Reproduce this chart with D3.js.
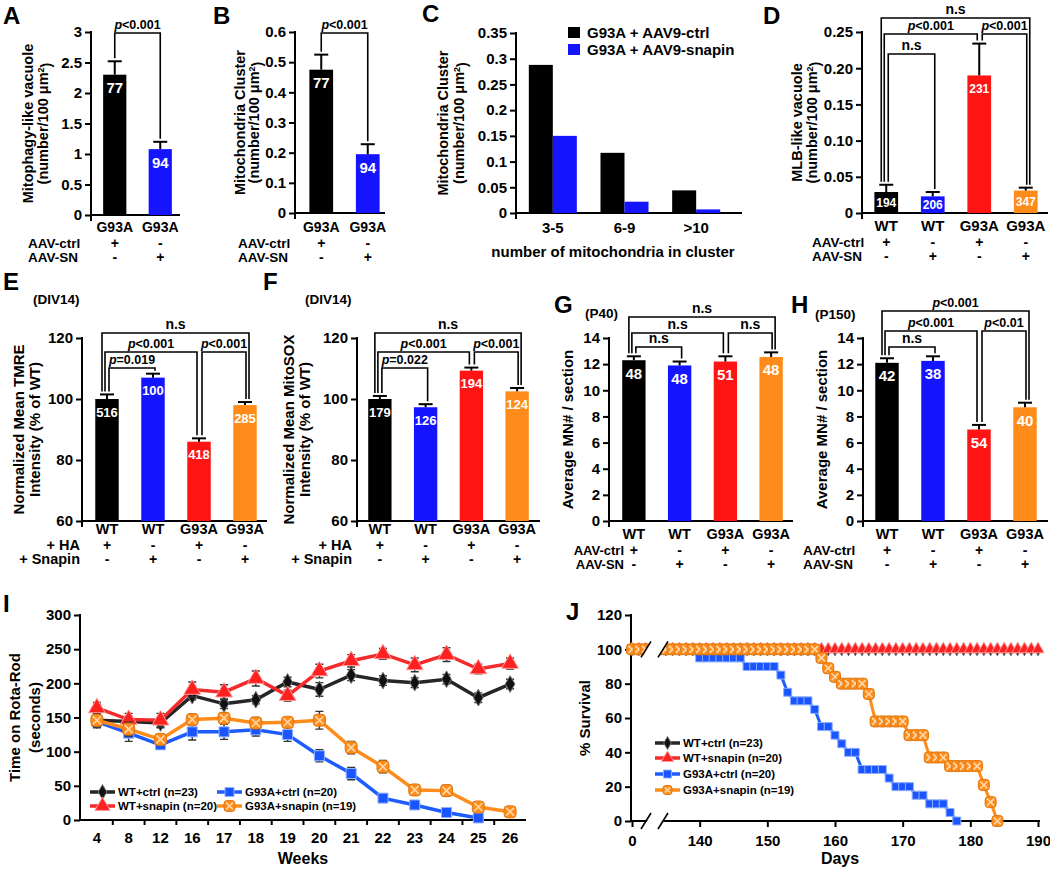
<!DOCTYPE html>
<html>
<head>
<meta charset="utf-8">
<script src="https://cdn.jsdelivr.net/npm/d3@7"></script>
<style>
  body { margin: 0; background: #fff; }
  svg { display: block; }
</style>
</head>
<body>
<script>
// ---------- data ----------
var aGroups = ["G93A", "G93A"];
var aMeans = [2.3, 1.08];
var aErrs = [0.22, 0.12];
var aCounts = [77, 94];
var aTicks = [0, 0.5, 1, 1.5, 2, 2.5, 3];
var aComps = [[0, 1, "p<0.001"]];

var bMeans = [0.475, 0.195];
var bErrs = [0.05, 0.033];
var bCounts = [77, 94];
var bTicks = [0, 0.1, 0.2, 0.3, 0.4, 0.5, 0.6];
var bComps = [[0, 1, "p<0.001"]];

var cCats = ["3-5", "6-9", ">10"];
var cCtrl = [0.288, 0.117, 0.044];
var cSnapin = [0.15, 0.022, 0.007];
var cTicks = [0, 0.05, 0.1, 0.15, 0.2, 0.25, 0.3, 0.35];
var cLegend = ["G93A + AAV9-ctrl", "G93A + AAV9-snapin"];

var fourGroups = ["WT", "WT", "G93A", "G93A"];
var aavRows = ["AAV-ctrl", "AAV-SN"];
var cultRows = ["+ HA", "+ Snapin"];
var twoSigns = [["+", "-"], ["-", "+"]];
var fourSigns = [["+", "-", "+", "-"], ["-", "+", "-", "+"]];

var dMeans = [0.029, 0.023, 0.19, 0.031];
var dErrs = [0.010, 0.006, 0.044, 0.004];
var dCounts = [194, 206, 231, 347];
var dTicks = [0, 0.05, 0.10, 0.15, 0.20, 0.25];
var dComps = [[0, 3, "n.s"], [0, 2, "p<0.001"], [2, 3, "p<0.001"], [0, 1, "n.s"]];

var eMeans = [100, 107, 86, 98];
var eErrs = [1.5, 1.3, 1.1, 1.0];
var eCounts = [516, 100, 418, 285];
var eComps = [[0, 3, "n.s"], [0, 2, "p<0.001"], [2, 3, "p<0.001"], [0, 1, "p=0.019"]];

var fMeans = [100, 97.3, 109.3, 102.5];
var fErrs = [1.0, 1.0, 1.0, 1.1];
var fCounts = [179, 126, 194, 124];
var fComps = [[0, 3, "n.s"], [0, 2, "p<0.001"], [2, 3, "p<0.001"], [0, 1, "p=0.022"]];
var efTicks = [60, 80, 100, 120];

var gMeans = [12.3, 11.9, 12.2, 12.55];
var gErrs = [0.3, 0.3, 0.4, 0.35];
var gCounts = [48, 48, 51, 48];
var gComps = [[0, 3, "n.s"], [0, 2, "n.s"], [2, 3, "n.s"], [0, 1, "n.s"]];

var hMeans = [12.1, 12.25, 7.0, 8.7];
var hErrs = [0.35, 0.35, 0.35, 0.35];
var hCounts = [42, 38, 54, 40];
var hComps = [[0, 3, "p<0.001"], [0, 2, "p<0.001"], [2, 3, "p<0.01"], [0, 1, "n.s"]];
var ghTicks = [0, 2, 4, 6, 8, 10, 12, 14];

var seriesNames = ["WT+ctrl (n=23)", "WT+snapin (n=20)", "G93A+ctrl  (n=20)", "G93A+snapin  (n=19)"];

// rota-rod (I)
var weeks = ["4", "8", "12", "16", "17", "18", "19", "20", "21", "22", "23", "24", "25", "26"];
var rotaWtCtrl = [146, 144, 142, 182, 170, 176, 202, 191, 212, 204, 201, 206, 179, 199];
var rotaWtSnap = [164, 147, 146, 191, 187, 207, 182, 218, 233, 243, 227, 242, 221, 229];
var rotaG93aCtrl = [144, 127, 110, 129, 129, 132, 125, 94, 68, 32, 22, 11, 3];
var rotaG93aSnap = [146, 133, 118, 147, 149, 142, 143, 146, 106, 78, 44, 43, 19, 12];
var rotaErrWtCtrl = [10, 8, 7, 6, 7, 6, 7, 10, 8, 7, 7, 7, 7, 7];
var rotaErrWtSnap = [8, 9, 10, 11, 11, 11, 8, 10, 9, 8, 10, 10, 7, 8];
var rotaErrG93aCtrl = [9, 12, 6, 12, 11, 9, 10, 9, 9, 5, 5, 4, 3];
var rotaErrG93aSnap = [9, 10, 8, 8, 8, 8, 6, 13, 9, 9, 7, 8, 5, 4];
var rotaTicks = [0, 50, 100, 150, 200, 250, 300];

// survival (J): first plotted day is shown as "0" on the broken axis
var survFirstDay = 130;
var survWtCtrl = [100, 100, 100, 100, 100, 100, 100, 100, 100, 100,
  100, 100, 100, 100, 100, 100, 100, 100, 100, 100,
  100, 100, 100, 100, 100, 100, 100, 100, 100, 100,
  100, 100, 100, 100, 100, 100, 100, 100, 100, 100,
  100, 100, 100, 100, 100, 100, 100, 100, 100, 100,
  100, 100, 100, 100, 100, 100, 100, 100, 100, 100, 100];
var survWtSnap = [100, 100, 100, 100, 100, 100, 100, 100, 100, 100,
  100, 100, 100, 100, 100, 100, 100, 100, 100, 100,
  100, 100, 100, 100, 100, 100, 100, 100, 100, 100,
  100, 100, 100, 100, 100, 100, 100, 100, 100, 100,
  100, 100, 100, 100, 100, 100, 100, 100, 100, 100,
  100, 100, 100, 100, 100, 100, 100, 100, 100, 100, 100];
var survG93aCtrl = [100, 100, 100, 100, 100, 100, 100, 100, 100, 100,
  95, 95, 95, 95, 95, 95, 95, 90, 90, 90,
  90, 90, 85, 75, 70, 70, 70, 65, 55, 55,
  50, 45, 40, 40, 30, 30, 30, 30, 25, 20,
  20, 20, 15, 15, 10, 10, 10, 5, 0];
var survG93aSnap = [100, 100, 100, 100, 100, 100, 100, 100, 100, 100,
  100, 100, 100, 100, 100, 100, 100, 100, 100, 100,
  100, 100, 100, 100, 100, 100, 100, 100, 95, 89,
  84, 80, 80, 80, 80, 74, 58, 58, 58, 58,
  58, 50, 50, 50, 37, 37, 37, 32, 32, 32,
  32, 32, 21, 11, 0];
var survTicks = [130, 140, 150, 160, 170, 180, 190];
var survYTicks = [0, 20, 40, 60, 80, 100, 120];

// ---------- drawing ----------
var FONT = "Arial, 'Liberation Sans', Helvetica, sans-serif";
var BLACK = "#000000", BLUE = "#1414ff", RED = "#ff1414", ORANGE = "#ff8c1a";
var barColors = [BLACK, BLUE, RED, ORANGE];

var svg = d3.select("body").append("svg")
  .attr("width", 1050).attr("height", 869)
  .attr("font-family", FONT).attr("font-weight", "bold");

function txt(g, x, y, s, size, anchor, fill) {
  return g.append("text").attr("x", x).attr("y", y).attr("font-size", size)
    .attr("text-anchor", anchor || "start").attr("fill", fill || "#000").text(s);
}

function pLabel(g, x, y, s, size) {
  var t = g.append("text").attr("x", x).attr("y", y).attr("text-anchor", "middle").attr("font-size", size);
  if (s.charAt(0) === "p") {
    t.append("tspan").attr("font-style", "italic").text("p");
    t.append("tspan").text(s.slice(1));
  } else {
    t.text(s);
  }
}

function yTitle(g, lines, xs, cy, size) {
  lines.forEach(function(s, k) {
    var t = g.append("text")
      .attr("transform", "translate(" + xs[k] + "," + cy + ") rotate(-90)")
      .attr("text-anchor", "middle").attr("dy", "0.35em").attr("font-size", size);
    var parts = s.split("^");
    t.append("tspan").text(parts[0]);
    if (parts.length > 1) {
      t.append("tspan").attr("dy", "-0.5em").attr("font-size", size * 0.62).text(parts[1].charAt(0));
      t.append("tspan").attr("dy", "0.5em").text(parts[1].slice(1));
    }
  });
}

function styleAxis(ga, size) {
  ga.selectAll("line").attr("stroke", "#000").attr("stroke-width", 2);
  ga.selectAll("text").attr("font-size", size).attr("font-family", FONT)
    .attr("font-weight", "bold").attr("fill", "#000");
}

function barPanel(c) {
  var g = svg.append("g");
  var n = c.means.length;
  var y = d3.scaleLinear().domain(c.domain).range([c.bottom, c.top]);
  var x = d3.scaleBand().domain(d3.range(n)).range(c.band).paddingInner(0.49).paddingOuter(0.245);
  var cx = function(i) { return x(i) + x.bandwidth() / 2; };

  var ga = g.append("g").attr("transform", "translate(" + c.axisX + ",0)")
    .call(d3.axisLeft(y).tickValues(c.ticks).tickFormat(c.fmt).tickSize(6).tickSizeOuter(0).tickPadding(3));
  ga.select(".domain").remove();
  styleAxis(ga, 15);
  g.append("line").attr("x1", c.axisX).attr("x2", c.axisX).attr("y1", c.top - 1).attr("y2", c.bottom + 6)
    .attr("stroke", "#000").attr("stroke-width", 2);
  g.append("line").attr("x1", c.axisX - 1).attr("x2", c.axisEnd).attr("y1", c.bottom).attr("y2", c.bottom)
    .attr("stroke", "#000").attr("stroke-width", 2);

  // bars
  g.selectAll("rect.bar").data(c.means).enter().append("rect")
    .attr("x", function(d, i) { return x(i); })
    .attr("y", function(d) { return y(d); })
    .attr("width", x.bandwidth())
    .attr("height", function(d) { return c.bottom - y(d); })
    .attr("fill", function(d, i) { return barColors[i]; });

  // error bars (upward), counts, group labels and +/- rows
  c.means.forEach(function(m, i) {
    var yt = y(m + c.errs[i]);
    g.append("line").attr("x1", cx(i)).attr("x2", cx(i)).attr("y1", y(m)).attr("y2", yt)
      .attr("stroke", "#000").attr("stroke-width", 2);
    g.append("line").attr("x1", cx(i) - 7).attr("x2", cx(i) + 7).attr("y1", yt).attr("y2", yt)
      .attr("stroke", "#000").attr("stroke-width", 2);
    var top = y(m), cy = Math.min(top + 13, (top + c.bottom) / 2);
    txt(g, cx(i), cy, c.counts[i], c.countSize, "middle", "#fff").attr("dy", "0.36em");
    txt(g, cx(i), c.labelY, c.groups[i], c.labelSize, "middle");
    c.signs.forEach(function(row, r) {
      txt(g, cx(i), c.rowY[r], row[i], 14, "middle");
    });
  });

  c.rows.forEach(function(s, r) {
    txt(g, c.rowX, c.rowY[r], s, c.rowSize, c.rowAnchor);
  });

  yTitle(g, c.ylab, c.ylabX, (c.top + c.bottom) / 2, c.ylabSize);

  // significance brackets
  c.comps.forEach(function(cp, k) {
    var L = c.levels[k], off = c.legs[k];
    var xa = cx(cp[0]) + off[0], xb = cx(cp[1]) + off[1];
    var ya = y(c.means[cp[0]] + c.errs[cp[0]]) - 3;
    var yb = y(c.means[cp[1]] + c.errs[cp[1]]) - 3;
    g.append("path").attr("d", "M" + xa + "," + ya + "V" + L + "H" + xb + "V" + yb)
      .attr("fill", "none").attr("stroke", "#000").attr("stroke-width", 1.6);
    pLabel(g, (xa + xb) / 2, L - 4, cp[2], cp[2].charAt(0) === "p" ? 12.5 : 14);
  });

  txt(g, c.letter[1], c.letter[2], c.letter[0], 24);
  if (c.note) txt(g, c.note[1], c.note[2], c.note[0], 13.5);
}

var fmtPlain = function(d) { return String(d); };
var fmt2 = function(d) { return d === 0 ? "0" : d.toFixed(2); };
var legs4 = [[-5, 4], [-2, -2], [3, 1], [2, 2]];

barPanel({ groups: aGroups, means: aMeans, errs: aErrs, counts: aCounts, ticks: aTicks, fmt: fmtPlain,
  domain: [0, 3], top: 32, bottom: 215, axisX: 91, band: [92, 183], axisEnd: 180,
  labelY: 232, labelSize: 14, rows: aavRows, signs: twoSigns, rowY: [248, 262], rowX: 28, rowAnchor: "start", rowSize: 13.5,
  ylab: ["Mitophagy-like vacuole", "(number/100 \u03bcm^2)"], ylabX: [28, 43], ylabSize: 14.5,
  countSize: 15, comps: aComps, levels: [33], legs: [[0, 0]], letter: ["A", 3, 24] });

barPanel({ groups: aGroups, means: bMeans, errs: bErrs, counts: bCounts, ticks: bTicks, fmt: fmtPlain,
  domain: [0, 0.6], top: 32, bottom: 213, axisX: 295, band: [298, 391], axisEnd: 385,
  labelY: 232, labelSize: 14, rows: aavRows, signs: twoSigns, rowY: [248, 262], rowX: 238, rowAnchor: "start", rowSize: 13.5,
  ylab: ["Mitochondria Cluster", "(number/100 \u03bcm^2)"], ylabX: [240, 254], ylabSize: 14.5,
  countSize: 15, comps: bComps, levels: [33], legs: [[0, 0]], letter: ["B", 213, 24] });

barPanel({ groups: fourGroups, means: dMeans, errs: dErrs, counts: dCounts, ticks: dTicks, fmt: fmt2,
  domain: [0, 0.25], top: 32, bottom: 213, axisX: 862, band: [863, 1049], axisEnd: 1048,
  labelY: 231, labelSize: 15, rows: aavRows, signs: fourSigns, rowY: [247, 261], rowX: 812, rowAnchor: "start", rowSize: 13.5,
  ylab: ["MLB-like vacuole", "(number/100 \u03bcm^2)"], ylabX: [797, 812], ylabSize: 14.5,
  countSize: 12, comps: dComps, levels: [18, 34, 34, 54], legs: legs4, letter: ["D", 763, 24] });

barPanel({ groups: fourGroups, means: eMeans, errs: eErrs, counts: eCounts, ticks: efTicks, fmt: fmtPlain,
  domain: [60, 120], top: 338, bottom: 521, axisX: 82, band: [84, 268], axisEnd: 267,
  labelY: 534, labelSize: 14.5, rows: cultRows, signs: fourSigns, rowY: [550, 564], rowX: 80, rowAnchor: "end", rowSize: 14.5,
  ylab: ["Normalized Mean TMRE", "Intensity (% of WT)"], ylabX: [19, 35], ylabSize: 15,
  countSize: 13, comps: eComps, levels: [333, 352, 352, 368], legs: legs4,
  letter: ["E", 3, 290], note: ["(DIV14)", 33, 304] });

barPanel({ groups: fourGroups, means: fMeans, errs: fErrs, counts: fCounts, ticks: efTicks, fmt: fmtPlain,
  domain: [60, 120], top: 338, bottom: 521, axisX: 357, band: [357, 540], axisEnd: 540,
  labelY: 534, labelSize: 14.5, rows: cultRows, signs: fourSigns, rowY: [550, 564], rowX: 352, rowAnchor: "end", rowSize: 14.5,
  ylab: ["Normalized Mean MitoSOX", "Intensity (% of WT)"], ylabX: [289, 305], ylabSize: 15,
  countSize: 13, comps: fComps, levels: [333, 352, 352, 368], legs: legs4,
  letter: ["F", 263, 290], note: ["(DIV14)", 305, 304] });

barPanel({ groups: fourGroups, means: gMeans, errs: gErrs, counts: gCounts, ticks: ghTicks, fmt: fmtPlain,
  domain: [0, 14], top: 338, bottom: 521, axisX: 609, band: [611, 794], axisEnd: 793,
  labelY: 539, labelSize: 14.5, rows: aavRows, signs: fourSigns, rowY: [555, 569], rowX: 624, rowAnchor: "end", rowSize: 13,
  ylab: ["Average MN# / section"], ylabX: [568], ylabSize: 15,
  countSize: 15, comps: gComps, levels: [317, 333, 333, 347], legs: legs4,
  letter: ["G", 554, 313], note: ["(P40)", 585, 318] });

barPanel({ groups: fourGroups, means: hMeans, errs: hErrs, counts: hCounts, ticks: ghTicks, fmt: fmtPlain,
  domain: [0, 14], top: 338, bottom: 521, axisX: 863, band: [864, 1048], axisEnd: 1048,
  labelY: 539, labelSize: 14.5, rows: aavRows, signs: fourSigns, rowY: [555, 569], rowX: 803, rowAnchor: "start", rowSize: 13.5,
  ylab: ["Average MN# / section"], ylabX: [822], ylabSize: 15,
  countSize: 15, comps: hComps, levels: [311, 331, 331, 347], legs: legs4,
  letter: ["H", 791, 313], note: ["(P150)", 815, 319] });

// ---------- panel C ----------
(function() {
  var g = svg.append("g");
  var top = 33, bottom = 213, axisX = 516;
  var y = d3.scaleLinear().domain([0, 0.35]).range([bottom, top]);
  var x = d3.scaleBand().domain(cCats).range([517, 732]).paddingInner(0.33).paddingOuter(0.165);
  var half = x.bandwidth() / 2;

  var ga = g.append("g").attr("transform", "translate(" + axisX + ",0)")
    .call(d3.axisLeft(y).tickValues(cTicks).tickFormat(fmtPlain).tickSize(6).tickSizeOuter(0).tickPadding(3));
  ga.select(".domain").remove();
  styleAxis(ga, 15);
  g.append("line").attr("x1", axisX).attr("x2", axisX).attr("y1", top - 1).attr("y2", bottom + 6)
    .attr("stroke", "#000").attr("stroke-width", 2);
  g.append("line").attr("x1", axisX - 1).attr("x2", 742).attr("y1", bottom).attr("y2", bottom)
    .attr("stroke", "#000").attr("stroke-width", 2);

  g.selectAll("rect.ctrl").data(cCtrl).enter().append("rect")
    .attr("x", function(d, i) { return x(cCats[i]); })
    .attr("y", function(d) { return y(d); })
    .attr("width", half).attr("height", function(d) { return bottom - y(d); })
    .attr("fill", BLACK);
  g.selectAll("rect.snap").data(cSnapin).enter().append("rect")
    .attr("x", function(d, i) { return x(cCats[i]) + half; })
    .attr("y", function(d) { return y(d); })
    .attr("width", half).attr("height", function(d) { return bottom - y(d); })
    .attr("fill", BLUE);

  cCats.forEach(function(cat) {
    txt(g, x(cat) + half, 233, cat, 15, "middle");
  });
  txt(g, 613, 257, "number of mitochondria in cluster", 15, "middle");
  yTitle(g, ["Mitochondria Cluster", "(number/100 \u03bcm^2)"], [443, 459], (top + bottom) / 2, 14.5);

  [BLACK, BLUE].forEach(function(col, k) {
    g.append("rect").attr("x", 568).attr("y", 27 + k * 17).attr("width", 12).attr("height", 11).attr("fill", col);
    txt(g, 587, 38 + k * 17, cLegend[k], 15);
  });
  txt(g, 422, 22, "C", 24);
})();

// ---------- markers ----------
var symbols = {
  diamond: d3.symbolDiamond,
  triangle: d3.symbolTriangle,
  square: d3.symbolSquare
};
function drawMarker(g, kind, px, py, color, edge, size) {
  var m = g.append("g").attr("transform", "translate(" + px + "," + py + ")");
  if (kind === "cross") {
    var h = size / 2;
    m.append("rect").attr("x", -h).attr("y", -h).attr("width", size).attr("height", size).attr("rx", size * 0.3)
      .attr("fill", color).attr("stroke", "#e07810").attr("stroke-width", 1);
    m.append("path").attr("d", "M" + (-h + 2) + "," + (-h + 2) + "L" + (h - 2) + "," + (h - 2) +
      "M" + (-h + 2) + "," + (h - 2) + "L" + (h - 2) + "," + (-h + 2))
      .attr("stroke", "#ffd8aa").attr("stroke-width", 1.6);
  } else {
    m.append("path").attr("d", d3.symbol(symbols[kind], size * size)())
      .attr("fill", color).attr("stroke", edge).attr("stroke-width", 1);
  }
}

var seriesStyle = [
  { line: "#262626", fill: "#111111", edge: "#777777", kind: "diamond" },
  { line: "#f52a2a", fill: "#ff2020", edge: "#ff9a9a", kind: "triangle" },
  { line: "#1f5cff", fill: "#1a55ff", edge: "#8fb0ff", kind: "square" },
  { line: "#ff8c1a", fill: "#ff8c1a", edge: "#e07810", kind: "cross" }
];

// ---------- panel I ----------
(function() {
  var g = svg.append("g");
  var top = 615, bottom = 820, axisX = 80;
  var y = d3.scaleLinear().domain([0, 300]).range([bottom, top]);
  var x = d3.scaleBand().domain(weeks).range([81, 526]);
  var cx = function(w) { return x(w) + x.bandwidth() / 2; };

  var ga = g.append("g").attr("transform", "translate(" + axisX + ",0)")
    .call(d3.axisLeft(y).tickValues(rotaTicks).tickSize(6).tickSizeOuter(0).tickPadding(3));
  ga.select(".domain").remove();
  styleAxis(ga, 15);
  g.append("line").attr("x1", axisX).attr("x2", axisX).attr("y1", top - 1).attr("y2", bottom + 1)
    .attr("stroke", "#000").attr("stroke-width", 2);
  var gx = g.append("g").attr("transform", "translate(0," + bottom + ")")
    .call(d3.axisBottom(x).tickSize(0).tickPadding(12));
  gx.select(".domain").attr("stroke", "#000").attr("stroke-width", 2).attr("d", "M" + (axisX - 1) + ",0H526");
  styleAxis(gx, 15);
  weeks.forEach(function(w, i) {
    if (i > 0) g.append("line").attr("x1", x(w)).attr("x2", x(w)).attr("y1", bottom).attr("y2", bottom + 5)
      .attr("stroke", "#000").attr("stroke-width", 2);
  });
  txt(g, 303, 864, "Weeks", 16, "middle");
  yTitle(g, ["Time on Rota-Rod", "(seconds)"], [15, 35], (top + bottom) / 2, 15);

  var all = [rotaWtCtrl, rotaWtSnap, rotaG93aCtrl, rotaG93aSnap];
  var errs = [rotaErrWtCtrl, rotaErrWtSnap, rotaErrG93aCtrl, rotaErrG93aSnap];
  var sizes = [9, 11, 10, 12];
  var line = d3.line().x(function(d, i) { return cx(weeks[i]); }).y(function(d) { return y(d); });
  all.forEach(function(vals, s) {
    var st = seriesStyle[s];
    vals.forEach(function(v, i) {
      var px = cx(weeks[i]), e = errs[s][i];
      g.append("path").attr("d", "M" + px + "," + y(v - e) + "V" + y(v + e) +
        "M" + (px - 4) + "," + y(v + e) + "H" + (px + 4) + "M" + (px - 4) + "," + y(v - e) + "H" + (px + 4))
        .attr("stroke", "#333").attr("stroke-width", 1.4).attr("fill", "none");
    });
    g.append("path").datum(vals).attr("d", line).attr("fill", "none")
      .attr("stroke", st.line).attr("stroke-width", 3.5);
    vals.forEach(function(v, i) {
      drawMarker(g, st.kind, cx(weeks[i]), y(v), st.fill, st.edge, sizes[s]);
    });
  });

  // legend
  var lx = [90, 217], ly = [792, 806];
  seriesNames.forEach(function(name, s) {
    var col = s < 2 ? 0 : 1, row = s % 2, st = seriesStyle[s];
    g.append("line").attr("x1", lx[col]).attr("x2", lx[col] + 25).attr("y1", ly[row]).attr("y2", ly[row])
      .attr("stroke", st.line).attr("stroke-width", 3.5);
    drawMarker(g, st.kind, lx[col] + 12.5, ly[row], st.fill, st.edge, sizes[s] - 1);
    txt(g, lx[col] + 28, ly[row] + 4, name, 11.5);
  });

  txt(g, 3, 612, "I", 24);
})();

// ---------- panel J ----------
(function() {
  var g = svg.append("g");
  var top = 615, bottom = 821, axisX = 631;
  var y = d3.scaleLinear().domain([0, 120]).range([bottom, top]);
  var x = d3.scaleLinear().domain([130, 190]).range([632, 1038]);

  var ga = g.append("g").attr("transform", "translate(" + axisX + ",0)")
    .call(d3.axisLeft(y).tickValues(survYTicks).tickSize(6).tickSizeOuter(0).tickPadding(3));
  ga.select(".domain").remove();
  styleAxis(ga, 15);
  g.append("line").attr("x1", axisX).attr("x2", axisX).attr("y1", top - 1).attr("y2", bottom + 1)
    .attr("stroke", "#000").attr("stroke-width", 2);
  var gx = g.append("g").attr("transform", "translate(0," + bottom + ")")
    .call(d3.axisBottom(x).tickValues(survTicks).tickSize(6).tickSizeOuter(0).tickPadding(8)
      .tickFormat(function(d) { return d === survFirstDay ? "0" : String(d); }));
  gx.select(".domain").attr("stroke", "#000").attr("stroke-width", 2).attr("d", "M" + (axisX - 1) + ",0H1040");
  styleAxis(gx, 15);
  txt(g, 840, 864, "Days", 16, "middle");
  yTitle(g, ["% Survival"], [585], (top + bottom) / 2, 15);

  var all = [survWtCtrl, survWtSnap, survG93aCtrl, survG93aSnap];
  var sizes = [7, 8, 8, 11];
  var line = d3.line().x(function(d, i) { return x(survFirstDay + i); }).y(function(d) { return y(d); });
  all.forEach(function(vals, s) {
    var st = seriesStyle[s];
    g.append("path").datum(vals).attr("d", line).attr("fill", "none")
      .attr("stroke", st.line).attr("stroke-width", 3);
    vals.forEach(function(v, i) {
      drawMarker(g, st.kind, x(survFirstDay + i), y(v), st.fill, st.edge, sizes[s]);
    });
  });

  // axis break marks
  [y(100), bottom].forEach(function(by) {
    g.append("path").attr("d", "M642," + (by + 9) + "L652," + (by - 9) + "L668," + (by - 9) + "L658," + (by + 9) + "Z")
      .attr("fill", "#fff");
    g.append("path").attr("d", "M641," + (by + 8) + "L651," + (by - 8) + "M658," + (by + 8) + "L668," + (by - 8))
      .attr("stroke", "#000").attr("stroke-width", 1.6);
  });

  // legend
  var ly = [743, 758, 774, 790];
  seriesNames.forEach(function(name, s) {
    var st = seriesStyle[s];
    g.append("line").attr("x1", 655).attr("x2", 680).attr("y1", ly[s]).attr("y2", ly[s])
      .attr("stroke", st.line).attr("stroke-width", 3.5);
    drawMarker(g, st.kind, 667.5, ly[s], st.fill, st.edge, Math.min(sizes[s], 9));
    txt(g, 683, ly[s] + 4, name, 11.5);
  });

  txt(g, 566, 620, "J", 24);
})();
</script>
</body>
</html>
